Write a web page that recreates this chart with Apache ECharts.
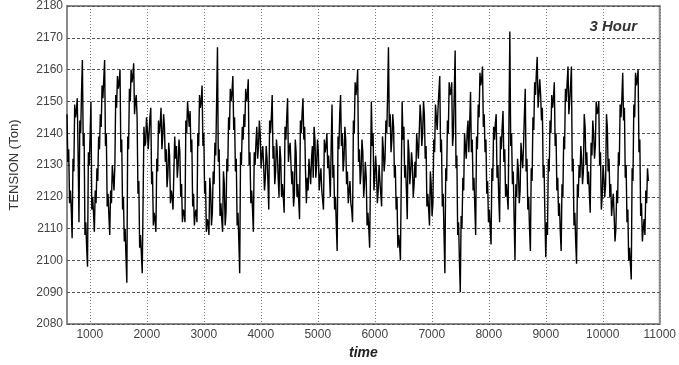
<!DOCTYPE html>
<html>
<head>
<meta charset="utf-8">
<script src="https://cdn.jsdelivr.net/npm/echarts@6/dist/echarts.min.js"></script>
<style>
  html, body { margin: 0; padding: 0; background: #fff; }
  #chart { width: 679px; height: 365px; }
</style>
</head>
<body>
<div id="chart"></div>
<script>
// sample times: one reading every 15 time units starting at 600
const tStart = 600;
const tStep = 15;
// tension (Ton)
const tension = [
  2146,2131, 2135,2118, 2122,2116, 2107,2132, 2128,2149, 2145,2147, 2151,2133, 2112,2144, 2140,2153, 2163,2136,
  2140,2108, 2112,2104, 2098,2134, 2130,2139, 2150,2116, 2120,2115, 2109,2122, 2118,2129, 2125,2139, 2135,2146,
  2142,2155, 2151,2157, 2163,2136, 2140,2117, 2121,2114, 2108,2122, 2118,2130, 2126,2122, 2130,2152, 2148,2158,
  2154,2156, 2160,2134, 2138,2116, 2120,2106, 2110,2101, 2093,2139, 2135,2154, 2150,2160, 2156,2158, 2162,2146,
  2150,2152, 2145,2121, 2125,2104, 2108,2102, 2096,2119, 2142,2136, 2137,2145, 2141,2135, 2140,2145, 2148,2124,
  2128,2111, 2115,2113, 2109,2132, 2128,2144, 2140,2143, 2148,2135, 2139,2146, 2142,2131, 2135,2123, 2127,2137,
  2133,2118, 2122,2120, 2116,2128, 2139,2132, 2136,2126, 2130,2138, 2134,2120, 2124,2112, 2116,2115, 2112,2144,
  2140,2150, 2146,2142, 2147,2134, 2138,2117, 2121,2111, 2115,2116, 2112,2140, 2136,2152, 2148,2150, 2155,2136,
  2140,2121, 2125,2109, 2113,2112, 2108,2126, 2122,2111, 2115,2128, 2124,2137, 2133,2150, 2167,2131, 2135,2114,
  2118,2113, 2109,2128, 2124,2111, 2115,2132, 2128,2145, 2141,2154, 2150,2153, 2158,2141, 2145,2128, 2132,2111,
  2115,2106, 2096,2134, 2130,2142, 2138,2146, 2142,2154, 2150,2152, 2157,2130, 2134,2118, 2122,2116, 2109,2134,
  2130,2137, 2142,2132, 2136,2144, 2140,2129, 2133,2136, 2130,2122, 2126,2136, 2132,2125, 2116,2144, 2140,2145,
  2152,2132, 2136,2124, 2128,2138, 2134,2126, 2120,2136, 2132,2120, 2124,2120, 2115,2142, 2138,2145, 2151,2131,
  2135,2137, 2130,2124, 2128,2117, 2121,2138, 2134,2120, 2124,2119, 2113,2144, 2140,2146, 2151,2138, 2142,2128,
  2118,2126, 2122,2132, 2128,2124, 2132,2136, 2126,2142, 2138,2126, 2130,2138, 2134,2122, 2126,2129, 2122,2119,
  2116,2138, 2134,2136, 2140,2129, 2133,2127, 2120,2136, 2149,2126, 2130,2116, 2120,2111, 2103,2139, 2135,2146,
  2152,2136, 2140,2128, 2132,2142, 2138,2124, 2128,2118, 2122,2125, 2118,2116, 2112,2144, 2140,2156, 2152,2155,
  2160,2131, 2135,2124, 2128,2138, 2134,2120, 2124,2131, 2126,2111, 2115,2110, 2104,2128, 2150,2136, 2140,2122,
  2126,2133, 2128,2118, 2122,2130, 2125,2121, 2117,2139, 2135,2128, 2132,2144, 2140,2152, 2167,2142, 2146,2134,
  2138,2146, 2142,2126, 2130,2116, 2120,2104, 2108,2105, 2100,2126, 2150,2138, 2142,2126, 2130,2122, 2113,2138,
  2134,2124, 2128,2134, 2130,2120, 2124,2131, 2126,2140, 2136,2132, 2140,2149, 2145,2136, 2140,2150, 2146,2132,
  2136,2117, 2121,2116, 2111,2128, 2124,2114, 2118,2138, 2134,2149, 2145,2141, 2148,2153, 2158,2134, 2138,2117,
  2121,2108, 2096,2129, 2125,2144, 2140,2156, 2152,2153, 2156,2136, 2140,2153, 2166,2129, 2133,2108, 2112,2100,
  2090,2114, 2110,2126, 2122,2140, 2136,2132, 2140,2144, 2134,2143, 2153,2134, 2138,2122, 2126,2117, 2108,2139,
  2135,2149, 2145,2159, 2155,2157, 2161,2142, 2146,2134, 2138,2121, 2125,2112, 2116,2110, 2105,2129, 2125,2142,
  2138,2143, 2146,2126, 2130,2120, 2112,2139, 2135,2142, 2147,2131, 2135,2120, 2124,2120, 2116,2146, 2172,2136,
  2140,2124, 2128,2113, 2100,2124, 2120,2132, 2128,2118, 2122,2137, 2133,2129, 2136,2146, 2154,2128, 2132,2116,
  2120,2110, 2103,2129, 2125,2145, 2141,2156, 2152,2159, 2164,2148, 2152,2157, 2152,2144, 2148,2126, 2130,2114,
  2101,2112, 2108,2132, 2128,2144, 2140,2152, 2148,2151, 2156,2136, 2140,2122, 2126,2114, 2118,2109, 2103,2124,
  2120,2139, 2135,2154, 2150,2156, 2161,2146, 2150,2155, 2161,2128, 2132,2111, 2115,2106, 2099,2124, 2120,2130,
  2126,2136, 2132,2124, 2128,2146, 2142,2130, 2134,2124, 2128,2121, 2115,2137, 2133,2144, 2140,2132, 2136,2150,
  2146,2147, 2150,2130, 2134,2116, 2120,2130, 2126,2120, 2124,2146, 2142,2128, 2132,2120, 2124,2114, 2118,2121,
  2114,2106, 2110,2122, 2118,2134, 2130,2149, 2145,2151, 2159,2144, 2148,2126, 2130,2112, 2116,2100, 2104,2099,
  2094,2129, 2125,2149, 2145,2159, 2155,2157, 2160,2134, 2138,2114, 2118,2106, 2110,2113, 2108,2122, 2118,2129,
  2125
];
const xTicks = [1000, 2000, 3000, 4000, 5000, 6000, 7000, 8000, 9000, 10000, 11000];
const yMin = 2080;
const yMax = 2180;
const yStep = 10;

const points = [];
for (let i = 0; i < tension.length; i++) {
  points.push([tStart + i * tStep, tension[i]]);
}

const myChart = echarts.init(document.getElementById('chart'), null, { renderer: 'canvas' });
const option = {
  animation: false,
  backgroundColor: '#fff',
  title: {
    text: '3 Hour',
    right: 37,
    top: 14,
    textStyle: {
      fontFamily: 'Liberation Sans, Arial, sans-serif',
      fontSize: 15,
      fontStyle: 'italic',
      fontWeight: 'bold',
      color: '#333'
    }
  },
  grid: {
    left: 66,
    right: 13,
    top: 5,
    bottom: 31,
    show: true,
    borderColor: '#8a8a8a',
    borderWidth: 2,
    containLabel: false
  },
  xAxis: {
    type: 'value',
    min: 600,
    max: 11000,
    name: 'time',
    nameLocation: 'middle',
    nameGap: 20,
    nameTextStyle: {
      fontFamily: 'Liberation Sans, Arial, sans-serif',
      fontSize: 14,
      fontStyle: 'italic',
      fontWeight: 'bold',
      color: '#222'
    },
    axisLine: { show: false },
    axisTick: { show: false, customValues: xTicks },
    axisLabel: {
      customValues: xTicks,
      margin: 5,
      formatter: (v) => String(v),
      fontFamily: 'Liberation Sans, Arial, sans-serif',
      fontSize: 12,
      color: '#444'
    },
    splitLine: {
      show: true,
      lineStyle: { color: '#777', width: 1, type: [1, 2] }
    }
  },
  yAxis: {
    type: 'value',
    min: yMin,
    max: yMax,
    interval: yStep,
    name: 'TENSION (Ton)',
    nameLocation: 'middle',
    nameGap: 46,
    nameTextStyle: {
      fontFamily: 'Liberation Sans, Arial, sans-serif',
      fontSize: 13,
      color: '#333'
    },
    axisLine: { show: false },
    axisTick: { show: false },
    axisLabel: {
      margin: 4,
      formatter: (v) => String(v),
      fontFamily: 'Liberation Sans, Arial, sans-serif',
      fontSize: 12,
      color: '#444'
    },
    splitLine: {
      show: true,
      lineStyle: { color: '#555', width: 1, type: [3, 2] }
    }
  },
  series: [
    {
      type: 'line',
      data: points,
      showSymbol: false,
      sampling: 'none',
      lineStyle: { color: '#000', width: 1.4 },
      z: 3
    }
  ]
};
myChart.setOption(option);
window.addEventListener('resize', () => {
  myChart.resize();
});
</script>
</body>
</html>
